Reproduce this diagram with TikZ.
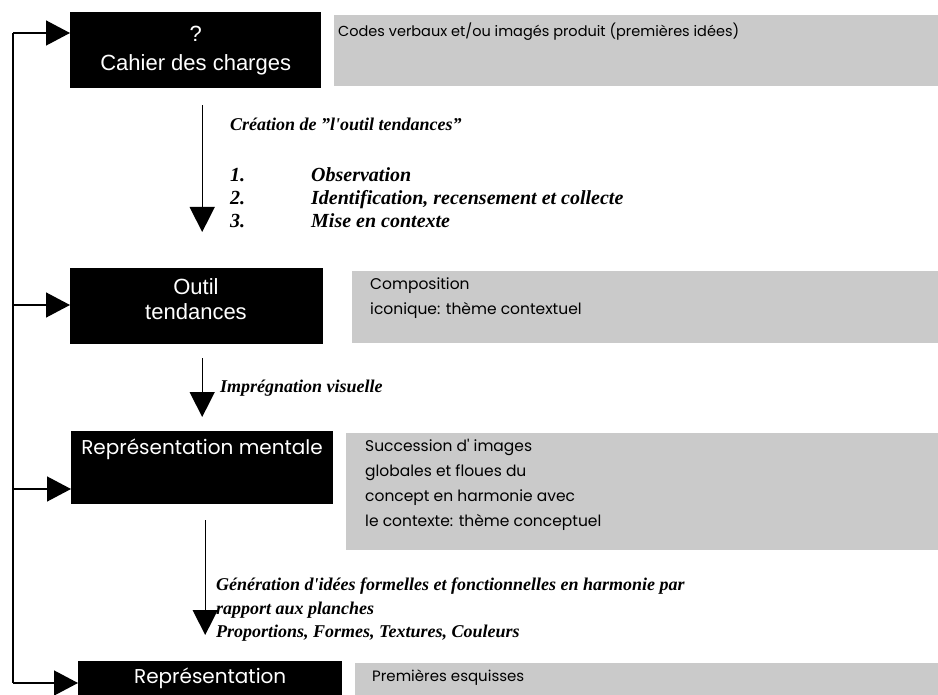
\documentclass[tikz,border=0pt]{standalone}
\usepackage{fontspec}
\setmainfont{Liberation Serif}
\newfontfamily\boxfont{Liberation Sans}
\newfontfamily\geofont{Poppins}
\usepackage{tikz}
\usetikzlibrary{arrows.meta, positioning, calc}
\definecolor{panelgray}{RGB}{202,202,202}
\tikzset{
  stage/.style={fill=black, text=white, anchor=north west, inner sep=0pt, align=center},
  stagetext/.style={text=white, inner sep=0pt, align=center, font=\geofont\fontsize{20}{24}\selectfont},
  note/.style={fill=panelgray, anchor=north west, inner sep=0pt},
  notetext/.style={anchor=north west, align=left, inner sep=0pt, font=\geofont\fontsize{15.5}{25}\selectfont},
  phase/.style={anchor=west, align=left, inner sep=0pt, font=\bfseries\itshape\fontsize{18}{23.5}\selectfont},
  flow/.style={-{Triangle[length=25pt, width=25pt]}, line width=1.4pt},
  feed/.style={-{Triangle[length=24pt, width=25pt]}, line width=1.4pt}
}
\newcommand{\stepnum}[1]{\makebox[81pt][l]{#1}}

\begin{document}
\begin{tikzpicture}[x=1pt, y=-1pt]
        \useasboundingbox (0,0) rectangle (938,695);

        % Stages
        \node[stage, minimum width=251pt, minimum height=76pt, font=\boxfont\fontsize{22}{29}\selectfont] (cahier) at (70,12) {?\\Cahier des charges};
        \node[stage, minimum width=253pt, minimum height=76pt] (outil) at (70,268) {};
        \node[stagetext, font=\boxfont\fontsize{22}{25}\selectfont] (outiltxt) at (196,299) {Outil\\tendances};
        \node[stage, minimum width=262pt, minimum height=73pt] (mentale) at (71,431) {};
        \node[stagetext] (mentaletxt) at (202,449) {Représentation mentale};
        \node[stage, minimum width=264pt, minimum height=34pt, font=\geofont\fontsize{20}{24}\selectfont] (repres) at (78,661) {Représentation};

        % Notes
        \node[note, minimum width=604pt, minimum height=71pt] (codes) at (334,15) {};
        \node[notetext, font=\geofont\fontsize{14.5}{25}\selectfont] (codestxt) at (338,23) {Codes verbaux et/ou imagés produit (premières idées)};
        \node[note, minimum width=586pt, minimum height=72pt] (compo) at (352,271) {};
        \node[notetext] (compotxt) at (370,278) {Composition\\iconique: thème contextuel};
        \node[note, minimum width=592pt, minimum height=117pt] (succ) at (346,433) {};
        \node[notetext] (succtxt) at (365,439) {Succession d\textquotesingle{} images\\globales et floues du\\concept en harmonie avec\\le contexte: thème conceptuel};
        \node[note, minimum width=583pt, minimum height=32pt] (esq) at (355,663) {};
        \node[notetext, font=\geofont\fontsize{15}{25}\selectfont] (esqtxt) at (372,670) {Premières esquisses};

        % Feedback line
        \coordinate (fb1) at (13,33);
        \coordinate (fb2) at (13,305);
        \coordinate (fb3) at (13,489);
        \coordinate (fb4) at (13,683);
        \draw[line width=1.4pt] (fb1) -- (fb4);
        \draw[feed] (fb1) -- (fb1 -| cahier.west);
        \draw[feed] (fb2) -- (fb2 -| outil.west);
        \draw[feed] (fb3) -- (fb3 -| mentale.west);
        \draw[feed] (fb4) -- (fb4 -| repres.west);

        % Flow arrows
        \draw[flow, shorten <=17pt, shorten >=36pt] ([xshift=6.5pt]cahier.south) -- ([xshift=6.5pt]cahier.south |- outil.north);
        \draw[flow, shorten <=14pt, shorten >=14pt] ([xshift=5.5pt]outil.south) -- ([xshift=5.5pt]outil.south |- mentale.north);
        \draw[flow, shorten <=16pt, shorten >=26pt] ([xshift=3pt]mentale.south) -- ([xshift=3pt]mentale.south |- repres.north);

        % Phase labels
        \node[phase] (creation) at (230,124) {Création de "l\textquotesingle{}outil tendances"};
        \node[phase, anchor=north west, font=\bfseries\itshape\fontsize{20}{23}\selectfont] (steps) at (230,167) {\stepnum{1.}Observation\\\stepnum{2.}Identification, recensement et collecte\\\stepnum{3.}Mise en contexte};
        \node[phase] (impreg) at (220,388) {Imprégnation visuelle};
        \node[phase, anchor=north west] (gener) at (216,578) {Génération d\textquotesingle{}idées formelles et fonctionnelles en harmonie par\\rapport aux planches\\Proportions, Formes, Textures, Couleurs};
    \end{tikzpicture}
\end{document}
